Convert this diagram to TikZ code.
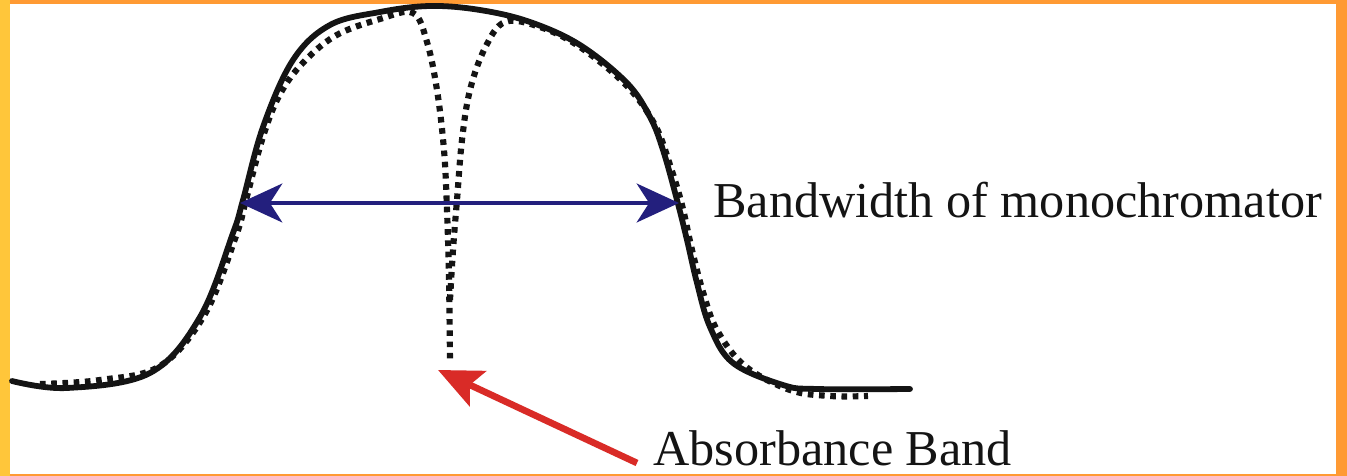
\documentclass[tikz,border=0pt]{standalone}
\usepackage{fontspec}
\setmainfont{Liberation Serif}
\usetikzlibrary{arrows.meta}
\definecolor{SlideOrange}{HTML}{FF9A33}
\definecolor{SlideGold}{HTML}{FFC63A}
\definecolor{BandNavy}{HTML}{231F7D}
\definecolor{ArrowRed}{HTML}{D92B27}
\definecolor{InkBlack}{HTML}{141414}
\tikzset{
  % Solid band profile
  band/.style={draw=InkBlack,line width=3.3pt,line join=round,line cap=round},
  % Dotted profile with absorbance dip
  dotband/.style={draw=InkBlack,line width=3.5pt,dash pattern=on 3.2pt off 3.2pt},
  % Arrows
  bwarr/.style={{Stealth[length=24pt,width=22pt,inset=7pt]}-{Stealth[length=24pt,width=22pt,inset=7pt]},
                draw=BandNavy,fill=BandNavy,line width=2.8pt},
  absarr/.style={-{Stealth[length=25pt,width=22pt,inset=5pt]},
                draw=ArrowRed,fill=ArrowRed,line width=3.8pt},
  % Label
  lbl/.style={inner sep=0pt,anchor=base west,text=InkBlack,
              font=\fontsize{28.6}{34}\selectfont}
}

\begin{document}
\begin{tikzpicture}[x=0.02cm,y=-0.02cm]
  \useasboundingbox (0,0) rectangle (1347,476);
  % --- slide frame ---
  \fill[SlideOrange] (0,0) rectangle (1347,476);
  \fill[SlideGold]   (0,0) rectangle (10,476);
  \fill[white]       (10,4) rectangle (1336,474);

  % --- profiles ---
  \draw[dotband] plot[smooth,tension=0.6] coordinates {
    (40,384) (100,380) (160,366) (205,314) (236,236) (246,200) (262,140)
    (278,98) (300,66) (335,36) (380,19) (413,13) (427,42) (437,90)
    (444,150) (447,210) (449,280) (450,362)};
  \draw[dotband] plot[smooth,tension=0.6] coordinates {
    (450,300) (453,250) (457,200) (462,140) (470,90) (485,48) (505,22)
    (540,27) (580,47) (627,86) (655,125) (670,165) (682,205) (692,250)
    (703,292) (717,330) (745,366) (790,390) (830,396) (868,396)};
  \draw[band] plot[smooth,tension=0.6] coordinates {
    (12,381) (67,388) (150,373) (200,317) (233,233) (243,200) (263,127)
    (293,60) (330,25) (380,12) (430,6) (480,10) (530,22) (580,45)
    (627,83) (650,117) (663,150) (677,200) (687,240) (697,283) (710,327)
    (733,363) (783,385) (817,389) (910,389)};

  % --- arrows ---
  \coordinate (bwL) at (240,203);
  \coordinate (bwR) at (679,203);
  \coordinate (dip) at (438,370);
  \coordinate (abtail) at (637,463);
  \draw[bwarr] (bwL) -- (bwR);
  \draw[absarr] (abtail) -- (dip);

  % --- labels ---
  \node[lbl] (bwtext)  at (713,218) {Bandwidth of monochromator};
  \node[lbl] (abstext) at (653,466) {Absorbance Band};
\end{tikzpicture}
\end{document}
